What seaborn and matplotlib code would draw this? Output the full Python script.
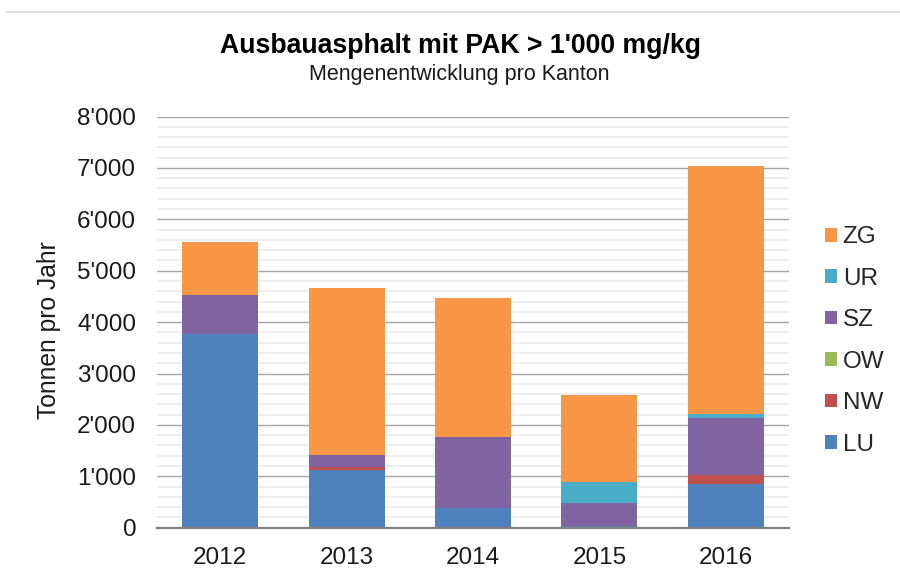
import matplotlib
matplotlib.use("Agg")
import matplotlib.pyplot as plt
from matplotlib.ticker import MultipleLocator, FuncFormatter
from matplotlib.patches import Patch
from matplotlib.lines import Line2D
import seaborn as sns
import pandas as pd

years = [2012, 2013, 2014, 2015, 2016]
cantons = ["ZG", "UR", "SZ", "OW", "NW", "LU"]  # top to bottom
LU = [3760, 1130, 380, 40, 850]
NW = [0, 50, 0, 0, 175]
OW = [0, 0, 0, 0, 0]
SZ = [770, 230, 1380, 450, 1115]
UR = [0, 0, 0, 390, 70]
ZG = [1020, 3250, 2700, 1700, 4820]
colors = {"LU": "#4F81BD", "NW": "#C0504D", "OW": "#9BBB59",
          "SZ": "#8064A2", "UR": "#4BACC6", "ZG": "#F79646"}

series = {"LU": LU, "NW": NW, "OW": OW, "SZ": SZ, "UR": UR, "ZG": ZG}
rows = []
for c, vals in series.items():
    for y, v in zip(years, vals):
        rows.append({"Jahr": y, "Kanton": c, "Tonnen": v})
df = pd.DataFrame(rows)

sns.set_theme(style="white")
plt.rcParams["font.family"] = ["Liberation Sans", "DejaVu Sans"]

fig = plt.figure(figsize=(9, 5.77), dpi=100)
ax = fig.add_axes([157 / 900, 1 - 527.7 / 577, (789 - 157) / 900, (527.7 - 116.5) / 577])

sns.histplot(data=df, x="Jahr", weights="Tonnen", hue="Kanton", hue_order=cantons,
             multiple="stack", discrete=True, shrink=0.6, palette=colors,
             alpha=1, linewidth=0, legend=False, ax=ax, zorder=3)

ax.set_xlim(2011.5, 2016.5)
ax.set_ylim(0, 8000)
ax.set_xticks(years)
ax.set_xticklabels([str(y) for y in years])
ax.yaxis.set_major_locator(MultipleLocator(1000))
ax.yaxis.set_minor_locator(MultipleLocator(200))
ax.yaxis.set_major_formatter(FuncFormatter(lambda v, p: "0" if v == 0 else f"{int(v):,}".replace(",", "'")))
ax.grid(axis="y", which="minor", color="#EFEFEF", lw=1.5, zorder=0)
ax.grid(axis="y", which="major", color="#A6A6A6", lw=1.0, zorder=1)
ax.set_axisbelow(True)
for s in ["top", "right", "left"]:
    ax.spines[s].set_visible(False)
ax.spines["bottom"].set_color("#7F7F7F")
ax.spines["bottom"].set_linewidth(1.6)
ax.spines["bottom"].set_zorder(5)
ax.tick_params(axis="both", which="both", length=0, labelsize=17.5, colors="#1A1A1A")
ax.tick_params(axis="y", pad=15)
ax.tick_params(axis="x", pad=14)
ax.set_xlabel("")
ax.set_ylabel("")

fig.text(49 / 900, 1 - 330 / 577, "Tonnen pro Jahr", rotation=90, ha="center", va="center",
         fontsize=17.7, color="#1A1A1A")
fig.text(461 / 900, 1 - 53 / 577, "Ausbauasphalt mit PAK > 1'000 mg/kg", ha="center",
         va="baseline", fontsize=19.2, fontweight="bold", color="#000000")
fig.text(459 / 900, 1 - 80 / 577, "Mengenentwicklung pro Kanton", ha="center",
         va="baseline", fontsize=15.5, color="#1A1A1A")

fig.add_artist(Line2D([7 / 900, 1.0], [1 - 12 / 577, 1 - 12 / 577], color="#D9D9D9", lw=1.2))

handles = [Patch(facecolor=colors[c], edgecolor="none") for c in cantons]
fig.legend(handles, cantons, loc="center left", bbox_to_anchor=(825 / 900, 1 - 341 / 577),
           frameon=False, fontsize=17.5, labelspacing=0.8, handlelength=0.48,
           handleheight=0.48, handletextpad=0.25, borderpad=0, borderaxespad=0)

fig.savefig("out.png", dpi=100)
